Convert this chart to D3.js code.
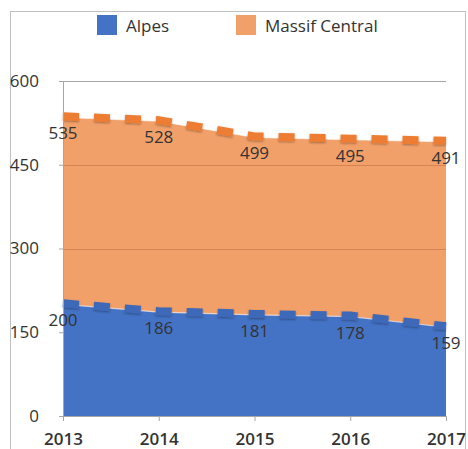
<!DOCTYPE html>
<html>
<head>
<meta charset="utf-8">
<script src="https://cdn.jsdelivr.net/npm/d3@7"></script>
<style>
  body { margin: 0; background: #fff; }
  text { font-family: "Open Sans", sans-serif; fill: #333; }
</style>
</head>
<body>
<div id="chart"></div>
<script>
// chart values
var years = ["2013", "2014", "2015", "2016", "2017"];
var alpes = [200, 186, 181, 178, 159];
var massifCentral = [535, 528, 499, 495, 491];
var yTicks = [0, 150, 300, 450, 600];

var W = 468, H = 449;
var plotLeft = 63, plotRight = 446, plotTop = 81, plotBottom = 416;

var svg = d3.select("#chart").append("svg")
    .attr("width", W).attr("height", H);

var defs = svg.append("defs");
var sh = defs.append("filter").attr("id", "shadow")
    .attr("x", "-10%").attr("y", "-50%").attr("width", "120%").attr("height", "200%");
sh.append("feDropShadow").attr("dx", 0).attr("dy", 1).attr("stdDeviation", 0.8)
    .attr("flood-color", "#000").attr("flood-opacity", 0.35);

// outer frame
svg.append("rect")
    .attr("x", 10.5).attr("y", 11.5)
    .attr("width", 455).attr("height", 470)
    .attr("fill", "none").attr("stroke", "#c0c0c0");

var x = d3.scalePoint().domain(years).range([plotLeft, plotRight]);
var y = d3.scaleLinear().domain([0, 600]).range([plotBottom, plotTop]);

var series = [
  { name: "Massif Central", values: massifCentral, fill: "#f2a069", line: "#ed7d31" },
  { name: "Alpes", values: alpes, fill: "#4472c4", line: "#3d69b8" }
];

function pts(s) {
  return years.map(function(yr, i) { return { year: yr, v: s.values[i] }; });
}

var area = d3.area()
    .x(function(d) { return x(d.year); })
    .y0(y(0))
    .y1(function(d) { return y(d.v); });

var edge = d3.line()
    .x(function(d) { return x(d.year); })
    .y(function(d) { return y(d.v); });

var line = d3.line()
    .x(function(d) { return x(d.year); })
    .y(function(d) { return y(d.v) - 1; });

// orange area first
svg.append("path")
    .attr("d", area(pts(series[0])))
    .attr("fill", series[0].fill);

// grid lines
svg.append("g").selectAll("line")
    .data(yTicks.filter(function(t) { return t > 0; }))
    .enter().append("line")
    .attr("x1", plotLeft).attr("x2", plotRight)
    .attr("y1", function(d) { return Math.round(y(d)) + 0.5; })
    .attr("y2", function(d) { return Math.round(y(d)) + 0.5; })
    .attr("stroke", function(d) { return d === 600 ? "#a6a6a6" : "#a0522d"; })
    .attr("stroke-opacity", function(d) { return d === 600 ? 1 : 0.35; });

// blue area
svg.append("path")
    .attr("d", area(pts(series[1])))
    .attr("fill", series[1].fill);

// thin light edges + dashed top lines
series.forEach(function(s) {
  svg.append("path")
      .attr("d", edge(pts(s)))
      .attr("fill", "none").attr("stroke", "#fff").attr("stroke-opacity", 0.6).attr("stroke-width", 1.2);
  svg.append("path")
      .attr("d", line(pts(s)))
      .attr("fill", "none")
      .attr("stroke", s.line)
      .attr("stroke-width", 8)
      .attr("stroke-dasharray", "16,15")
      .attr("filter", "url(#shadow)");
});

// axes
var yAxis = d3.axisLeft(y).tickValues(yTicks).tickSize(4).tickPadding(20);
var gy = svg.append("g").attr("transform", "translate(" + plotLeft + ",0)").call(yAxis);
gy.select(".domain").attr("stroke", "#a6a6a6");
gy.selectAll(".tick line").attr("stroke", "#a6a6a6");
gy.selectAll(".tick text")
    .attr("font-size", 17).attr("fill", "#333")
    .attr("font-family", "Open Sans, sans-serif");

var xAxis = d3.axisBottom(x).tickSize(5).tickPadding(12).tickSizeOuter(0);
var gx = svg.append("g").attr("transform", "translate(0," + plotBottom + ")").call(xAxis);
gx.select(".domain").attr("stroke", "#a6a6a6");
gx.selectAll(".tick line").attr("stroke", "#a6a6a6");
gx.selectAll(".tick text")
    .attr("font-size", 17).attr("font-weight", 600).attr("fill", "#333")
    .attr("font-family", "Open Sans, sans-serif");

// data labels
series.forEach(function(s) {
  svg.append("g").selectAll("text")
      .data(pts(s))
      .enter().append("text")
      .attr("x", function(d) { return x(d.year); })
      .attr("y", function(d) { return y(d.v) + 22; })
      .attr("text-anchor", "middle")
      .attr("font-size", 17)
      .attr("fill", "#222")
      .text(function(d) { return d.v; });
});

// legend
var legend = [
  { name: "Alpes", color: "#4472c4", x: 97 },
  { name: "Massif Central", color: "#f2a069", x: 236 }
];
var lg = svg.append("g").selectAll("g").data(legend).enter().append("g");
lg.append("rect")
    .attr("x", function(d) { return d.x; }).attr("y", 15)
    .attr("width", 20).attr("height", 20)
    .attr("fill", function(d) { return d.color; });
lg.append("text")
    .attr("x", function(d) { return d.x + 29; }).attr("y", 32)
    .attr("font-size", 17)
    .text(function(d) { return d.name; });
</script>
</body>
</html>
